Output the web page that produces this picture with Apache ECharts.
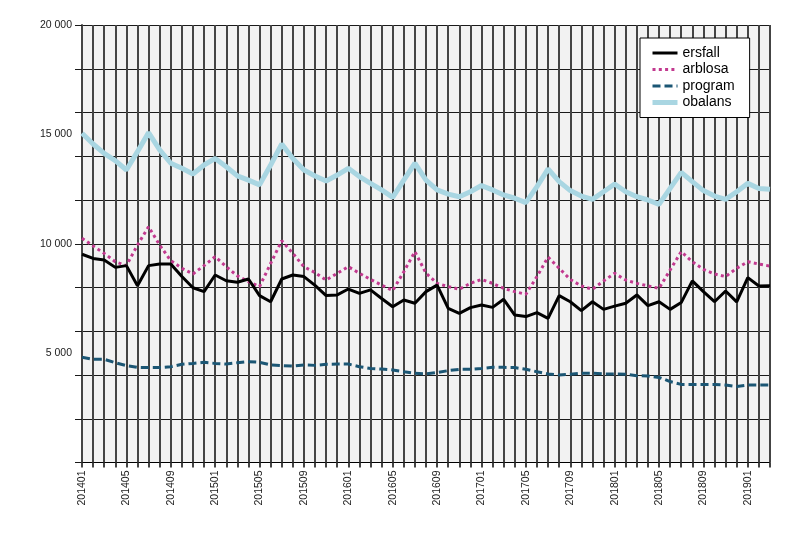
<!DOCTYPE html>
<html>
<head>
<meta charset="utf-8">
<script src="https://cdn.jsdelivr.net/npm/echarts@6/dist/echarts.min.js"></script>
<style>
html,body{margin:0;padding:0;background:#fff;}
#c{width:802px;height:535px;}
</style>
</head>
<body>
<div id="c"></div>
<script>
const categories = [
'201401','201402','201403','201404','201405','201406','201407','201408','201409','201410','201411','201412',
'201501','201502','201503','201504','201505','201506','201507','201508','201509','201510','201511','201512',
'201601','201602','201603','201604','201605','201606','201607','201608','201609','201610','201611','201612',
'201701','201702','201703','201704','201705','201706','201707','201708','201709','201710','201711','201712',
'201801','201802','201803','201804','201805','201806','201807','201808','201809','201810','201811','201812',
'201901','201902','201903'];

const ersfall = [9520,9330,9260,8920,9000,8080,9000,9070,9070,8500,7990,7810,
8570,8310,8240,8390,7630,7350,8390,8570,8500,8100,7630,7660,
7930,7730,7890,7500,7120,7430,7280,7810,8110,7050,6820,7080,
7200,7090,7460,6740,6670,6850,6590,7630,7350,6940,7350,7000,
7150,7280,7660,7170,7350,7000,7310,8300,7810,7350,7840,7340,
8450,8070,8080];

const arblosa = [10250,9900,9560,9180,9000,9940,10780,9940,9230,8880,8620,9000,
9410,8950,8530,8270,8040,9100,10140,9560,8950,8680,8340,8650,
8950,8650,8370,8110,7860,8720,9640,8650,8190,8040,7920,8190,
8370,8190,7960,7810,7690,8500,9390,8880,8370,8070,7920,8300,
8650,8340,8190,8070,7960,8800,9640,9180,8830,8620,8500,8880,
9180,9070,8980];

const program = [4810,4720,4720,4560,4430,4350,4340,4340,4380,4490,4530,4580,
4530,4500,4560,4610,4580,4460,4430,4410,4460,4440,4490,4500,
4500,4380,4300,4270,4230,4150,4080,4050,4110,4200,4260,4260,
4300,4350,4350,4340,4260,4150,4050,4000,4030,4080,4080,4050,
4050,4030,3970,3950,3890,3700,3570,3570,3570,3570,3540,3470,
3540,3540,3540];

const obalans = [15050,14560,14130,13800,13370,14210,15080,14290,13680,13450,13190,13600,
13900,13520,13100,12910,12690,13600,14560,13900,13370,13100,12870,13140,
13450,13070,12760,12460,12120,12910,13680,12910,12460,12270,12150,12380,
12660,12460,12230,12080,11880,12610,13420,12840,12430,12180,12030,12380,
12730,12380,12150,12000,11800,12530,13260,12840,12430,12180,12030,12380,
12760,12530,12490];

const seriesNames = ['ersfall','arblosa','program','obalans'];

function fmt(v){
  if (v === 0) return '';
  return String(v).replace(/\B(?=(\d{3})+(?!\d))/g, ' ');
}

const chart = echarts.init(document.getElementById('c'), null, {renderer:'canvas'});
const font = 'Liberation Sans, Arial, sans-serif';

chart.setOption({
  animation: false,
  backgroundColor: '#ffffff',
  grid: {
    left: 82, right: 32, top: 25, bottom: 72.5,
    show: true, backgroundColor: '#f2f2f2', borderWidth: 0
  },
  legend: {
    data: seriesNames,
    orient: 'vertical',
    left: 640, top: 38,
    backgroundColor: '#ffffff',
    borderColor: '#000000',
    borderWidth: 1,
    borderRadius: 0,
    padding: [8, 15, 8, 10],
    itemWidth: 25,
    itemHeight: 12,
    itemGap: 2.5,
    itemTextGap: 7,
    itemStyle: {opacity: 0},
    lineStyle: {width: 'inherit', type: 'inherit', color: 'inherit'},
    textStyle: {fontFamily: font, fontSize: 14, color: '#000'}
  },
  xAxis: {
    type: 'category',
    data: categories,
    boundaryGap: false,
    axisLine: {show: true, lineStyle: {color: '#000', width: 1}},
    axisTick: {show: true, interval: 0, length: 5, lineStyle: {color: '#444', width: 2}},
    splitLine: {show: true, interval: 0, lineStyle: {color: '#444', width: 2}},
    axisLabel: {
      interval: 3, rotate: 90, margin: 8,
      fontFamily: font, fontSize: 10.5, color: '#1a1a1a'
    }
  },
  yAxis: [
    {
      type: 'value', position: 'left',
      min: 0, max: 20000, interval: 2000,
      axisLine: {show: true, lineStyle: {color: '#444', width: 2}},
      axisTick: {show: true, length: 7, lineStyle: {color: '#1a1a1a', width: 1}},
      splitLine: {show: true, lineStyle: {color: '#1a1a1a', width: 1}},
      axisLabel: {show: false}
    },
    {
      type: 'value', position: 'left',
      min: 0, max: 20000, interval: 5000,
      axisLine: {show: false},
      axisTick: {show: false},
      splitLine: {show: false},
      axisLabel: {
        show: true, margin: 10, formatter: fmt,
        fontFamily: font, fontSize: 10.5, color: '#1a1a1a'
      }
    }
  ],
  series: [
    {
      name: 'obalans', type: 'line', data: obalans, yAxisIndex: 0,
      symbol: 'none', z: 3,
      lineStyle: {color: '#a9d6e2', width: 5},
      itemStyle: {color: '#a9d6e2'}
    },
    {
      name: 'program', type: 'line', data: program, yAxisIndex: 0,
      symbol: 'none', z: 4,
      lineStyle: {color: '#1b5674', width: 3, type: [8, 4]},
      itemStyle: {color: '#1b5674'}
    },
    {
      name: 'arblosa', type: 'line', data: arblosa, yAxisIndex: 0,
      symbol: 'none', z: 5,
      lineStyle: {color: '#c2398f', width: 3, type: [3, 3.3]},
      itemStyle: {color: '#c2398f'}
    },
    {
      name: 'ersfall', type: 'line', data: ersfall, yAxisIndex: 0,
      symbol: 'none', z: 6,
      lineStyle: {color: '#000000', width: 3},
      itemStyle: {color: '#000000'}
    }
  ]
});
</script>
</body>
</html>
